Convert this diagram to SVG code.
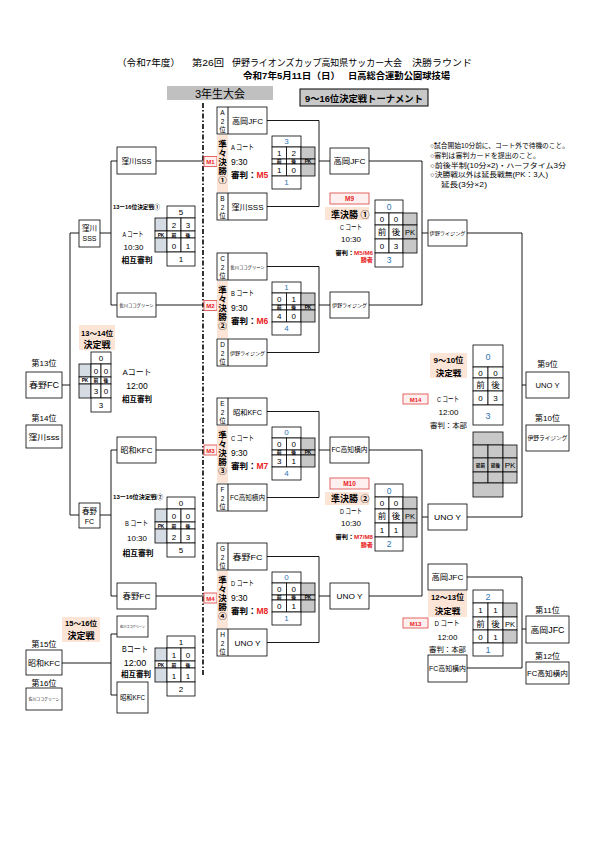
<svg xmlns="http://www.w3.org/2000/svg" width="595" height="841" viewBox="0 0 595 841">
<defs>
<style>
text{font-family:"Liberation Sans","Noto Sans CJK JP",sans-serif;fill:#000}
.b{fill:#fff;stroke:#000;stroke-width:0.8}
.ln{fill:none;stroke:#000;stroke-width:0.9}
.g{fill:#c8c8c8;stroke:#000;stroke-width:0.8}
.gb{fill:#d6dce4;stroke:#000;stroke-width:0.8}
.pe{fill:#fce4d6}
.bl{fill:#2f75b5}
.rd{fill:#e8231e}
.ml{fill:#fff0f0;stroke:#e05555;stroke-width:0.9}
.m{font-weight:bold;fill:#e8231e;text-anchor:middle}
.c{text-anchor:middle}
.bd{font-weight:bold}
</style>
<g id="qt">
<rect class="b" x="0" y="0" width="29" height="11"/>
<rect class="b" x="0" y="11" width="14.5" height="12"/>
<rect class="b" x="14.5" y="11" width="14.5" height="12"/>
<rect class="g" x="29" y="11" width="14" height="12"/>
<rect class="b" x="0" y="23" width="14.5" height="5"/>
<rect class="b" x="14.5" y="23" width="14.5" height="5"/>
<rect class="g" x="29" y="23" width="14" height="5"/>
<rect class="b" x="0" y="28" width="14.5" height="12"/>
<rect class="b" x="14.5" y="28" width="14.5" height="12"/>
<rect class="g" x="29" y="28" width="14" height="12"/>
<rect class="b" x="0" y="40" width="29" height="13"/>
<text class="c bd" x="7.25" y="27.2" font-size="4.8">前</text>
<text class="c bd" x="21.75" y="27.2" font-size="4.8">後</text>
<text class="c bd" x="36" y="27.2" font-size="4.8">PK</text>
</g>
<g id="st">
<rect class="b" x="0" y="0" width="28" height="13"/>
<rect class="b" x="0" y="13" width="14" height="12"/>
<rect class="b" x="14" y="13" width="14" height="12"/>
<rect class="g" x="28" y="13" width="14" height="12"/>
<rect class="b" x="0" y="25" width="14" height="14"/>
<rect class="b" x="14" y="25" width="14" height="14"/>
<rect class="g" x="28" y="25" width="14" height="14"/>
<rect class="b" x="0" y="39" width="14" height="14"/>
<rect class="b" x="14" y="39" width="14" height="14"/>
<rect class="g" x="28" y="39" width="14" height="14"/>
<rect class="b" x="0" y="53" width="28" height="14"/>
<text class="c" x="7" y="35" font-size="8.5">前</text>
<text class="c" x="21" y="35" font-size="8.5">後</text>
<text class="c" x="35" y="35" font-size="7.5">PK</text>
</g>
<g id="lt">
<rect class="b" x="12" y="0" width="28" height="12"/>
<rect class="gb" x="0" y="12" width="12" height="13"/>
<rect class="b" x="12" y="12" width="14" height="13"/>
<rect class="b" x="26" y="12" width="14" height="13"/>
<rect class="b" x="0" y="25" width="12" height="7"/>
<rect class="b" x="12" y="25" width="14" height="7"/>
<rect class="b" x="26" y="25" width="14" height="7"/>
<rect class="gb" x="0" y="32" width="12" height="14"/>
<rect class="b" x="12" y="32" width="14" height="14"/>
<rect class="b" x="26" y="32" width="14" height="14"/>
<rect class="b" x="12" y="46" width="28" height="14"/>
<text class="c bd" x="6" y="30.6" font-size="4.8">PK</text>
<text class="c bd" x="19" y="30.6" font-size="4.8">前</text>
<text class="c bd" x="33" y="30.6" font-size="4.8">後</text>
</g>
</defs>
<rect width="595" height="841" fill="#fff"/>

<g id="header">
<text x="117" y="66" font-size="9.5" textLength="63" lengthAdjust="spacingAndGlyphs">（令和7年度）</text>
<text x="192" y="66" font-size="9.5" textLength="32" lengthAdjust="spacingAndGlyphs">第26回</text>
<text x="232" y="66" font-size="9.5" textLength="170" lengthAdjust="spacingAndGlyphs">伊野ライオンズカップ高知県サッカー大会</text>
<text x="412" y="66" font-size="9.5" textLength="60" lengthAdjust="spacingAndGlyphs">決勝ラウンド</text>
<text x="243" y="79" font-size="9" font-weight="bold" textLength="97" lengthAdjust="spacingAndGlyphs">令和7年5月11日（日）</text>
<text x="348" y="79" font-size="9" font-weight="bold" textLength="102" lengthAdjust="spacingAndGlyphs">日高総合運動公園球技場</text>
<rect x="167" y="86" width="106" height="14" fill="#c0c0c0"/>
<text class="c" x="220" y="97.5" font-size="11">3年生大会</text>
<rect x="300" y="89" width="128" height="17" fill="#c8c8c8" stroke="#000" stroke-width="1"/>
<text class="c bd" x="364" y="101.5" font-size="9.5" textLength="118" lengthAdjust="spacingAndGlyphs">9～16位決定戦トーナメント</text>
</g>

<g id="notes" font-size="6.5">
<text x="430" y="148" textLength="139" lengthAdjust="spacingAndGlyphs">○試合開始10分前に、コート外で待機のこと。</text>
<text x="430" y="158" textLength="110" lengthAdjust="spacingAndGlyphs">○審判は審判カードを提出のこと。</text>
<text x="430" y="167.5" textLength="136" lengthAdjust="spacingAndGlyphs">○前後半制(10分×2)・ハーフタイム3分</text>
<text x="430" y="177" textLength="118" lengthAdjust="spacingAndGlyphs">○決勝戦以外は延長戦無(PK：3人)</text>
<text x="441" y="186.5" textLength="46" lengthAdjust="spacingAndGlyphs">延長(3分×2)</text>
</g>

<line id="divider" x1="203" y1="103" x2="203" y2="676" stroke="#000" stroke-width="1.6" stroke-dasharray="5 2 1.5 2"/>

<g id="connectors" class="ln">
<path d="M156,161 H204"/>
<path d="M156,305 H204"/>
<path d="M156,450 H204"/>
<path d="M156,596 H204"/>
<path d="M117,161 H111 V305 H117"/>
<path d="M100,233 H111"/>
<path d="M117,450 H111 V596 H117"/>
<path d="M100,515 H111"/>
<path d="M79,233 H70 V515 H79"/>
<path d="M62,385 H70"/>
<path d="M117,634 H111 V695 H117"/>
<path d="M62,663 H111"/>
<path d="M267,120.5 H319 V206.5 H267"/>
<path d="M319,161 H330"/>
<path d="M267,266.5 H319 V352.5 H267"/>
<path d="M319,305 H330"/>
<path d="M267,411.5 H319 V497.5 H267"/>
<path d="M319,450 H330"/>
<path d="M267,556.5 H319 V642.5 H267"/>
<path d="M319,596 H330"/>
<path d="M369,161 H422 V305 H369"/>
<path d="M422,233 H428"/>
<path d="M369,450 H422 V596 H369"/>
<path d="M422,517 H428"/>
<path d="M467,233 H522 V517 H467"/>
<path d="M522,385 H526"/>
<path d="M467,577 H522 V668 H467"/>
<path d="M522,629 H526"/>
</g>

<!-- Left first round boxes -->
<g id="l-kubokawa"><rect class="b" x="117" y="147" width="39" height="27"/><text class="c" x="136.5" y="163.5" font-size="7.5" textLength="30" lengthAdjust="spacingAndGlyphs">窪川SSS</text></g>
<g id="l-sakawa"><rect class="b" x="117" y="293" width="39" height="24"/><text class="c" x="136.5" y="306.5" font-size="4.3" textLength="34" lengthAdjust="spacingAndGlyphs">佐川ココグリーン</text></g>
<g id="l-showa"><rect class="b" x="117" y="437" width="39" height="26"/><text class="c" x="136.5" y="453" font-size="8" textLength="32" lengthAdjust="spacingAndGlyphs">昭和KFC</text></g>
<g id="l-haruno"><rect class="b" x="117" y="583" width="39" height="26"/><text class="c" x="136.5" y="599" font-size="8" textLength="28" lengthAdjust="spacingAndGlyphs">春野FC</text></g>
<g id="l-kubokawa2"><rect class="b" x="79" y="220" width="21" height="27"/><text class="c" x="89.5" y="230.5" font-size="7.5">窪川</text><text class="c" x="89.5" y="240.5" font-size="7">SSS</text></g>
<g id="l-haruno2"><rect class="b" x="79" y="503" width="21" height="25"/><text class="c" x="89.5" y="514" font-size="7.5">春野</text><text class="c" x="89.5" y="524" font-size="7">FC</text></g>

<!-- 13-16 deciding match 1 -->
<g id="m1316a">
<text x="113" y="209" font-size="5.6" font-weight="bold" textLength="47" lengthAdjust="spacingAndGlyphs">13ー16位決定戦①</text>
<use href="#lt" x="155" y="206"/>
<text class="c" x="181" y="215" font-size="8">5</text>
<text class="c" x="174" y="227.5" font-size="8">2</text><text class="c" x="188" y="227.5" font-size="8">3</text>
<text class="c" x="174" y="248.5" font-size="8">0</text><text class="c" x="188" y="248.5" font-size="8">1</text>
<text class="c" x="181" y="262" font-size="8">1</text>
<text class="c" x="133" y="237" font-size="7.5" textLength="21" lengthAdjust="spacingAndGlyphs">A コート</text>
<text class="c" x="133.5" y="249.5" font-size="8">10:30</text>
<text class="c bd" x="137" y="262.5" font-size="7.5" textLength="31" lengthAdjust="spacingAndGlyphs">相互審判</text>
</g>

<!-- 13-16 deciding match 2 -->
<g id="m1316b">
<text x="113" y="498.5" font-size="5.6" font-weight="bold" textLength="50" lengthAdjust="spacingAndGlyphs">13ー16位決定戦②</text>
<use href="#lt" x="155" y="497"/>
<text class="c" x="181" y="506" font-size="8">0</text>
<text class="c" x="174" y="518.5" font-size="8">0</text><text class="c" x="188" y="518.5" font-size="8">0</text>
<text class="c" x="174" y="539.5" font-size="8">2</text><text class="c" x="188" y="539.5" font-size="8">3</text>
<text class="c" x="181" y="553" font-size="8">5</text>
<text class="c" x="136.5" y="525.5" font-size="7.5" textLength="23" lengthAdjust="spacingAndGlyphs">B コート</text>
<text class="c" x="137" y="540.5" font-size="8">10:30</text>
<text class="c bd" x="138" y="555.5" font-size="7.5" textLength="31" lengthAdjust="spacingAndGlyphs">相互審判</text>
</g>

<!-- 13-14 -->
<g id="m1314">
<rect class="pe" x="79" y="325" width="36" height="25"/>
<text class="c bd" x="97" y="335.5" font-size="7" textLength="32" lengthAdjust="spacingAndGlyphs">13～14位</text>
<text class="c bd" x="97" y="348" font-size="9">決定戦</text>
<rect class="b" x="91" y="352" width="20" height="12"/>
<rect class="gb" x="79" y="364" width="12" height="13"/>
<rect class="b" x="91" y="364" width="10" height="13"/><rect class="b" x="101" y="364" width="10" height="13"/>
<rect class="b" x="79" y="377" width="12" height="7"/><rect class="b" x="91" y="377" width="10" height="7"/><rect class="b" x="101" y="377" width="10" height="7"/>
<rect class="gb" x="79" y="384" width="12" height="14"/>
<rect class="b" x="91" y="384" width="10" height="14"/><rect class="b" x="101" y="384" width="10" height="14"/>
<rect class="b" x="91" y="398" width="20" height="14"/>
<text class="c bd" x="85" y="382.4" font-size="4.8">PK</text><text class="c bd" x="96" y="382.4" font-size="4.8">前</text><text class="c bd" x="106" y="382.4" font-size="4.8">後</text>
<text class="c" x="101" y="361" font-size="8">0</text>
<text class="c" x="96" y="373.5" font-size="8">0</text><text class="c" x="106" y="373.5" font-size="8">0</text>
<text class="c" x="96" y="394" font-size="8">3</text><text class="c" x="106" y="394" font-size="8">0</text>
<text class="c" x="101" y="408" font-size="8">3</text>
<text class="c" x="137" y="375" font-size="8" textLength="29" lengthAdjust="spacingAndGlyphs">Aコート</text>
<text class="c" x="137" y="389" font-size="8.5">12:00</text>
<text class="c bd" x="137" y="402" font-size="7.5" textLength="30" lengthAdjust="spacingAndGlyphs">相互審判</text>
</g>
<g id="rank13"><text class="c" x="44" y="366" font-size="8">第13位</text><rect class="b" x="26" y="372" width="36" height="26"/><text class="c" x="44" y="388" font-size="8.5" textLength="30" lengthAdjust="spacingAndGlyphs">春野FC</text></g>
<g id="rank14"><text class="c" x="44" y="421" font-size="8">第14位</text><rect class="b" x="26" y="425" width="36" height="23"/><text class="c" x="44" y="439.5" font-size="8" textLength="31" lengthAdjust="spacingAndGlyphs">窪川sss</text></g>

<!-- 15-16 -->
<g id="m1516">
<rect class="pe" x="62" y="617" width="38" height="25"/>
<text class="c bd" x="81" y="626" font-size="7" textLength="32" lengthAdjust="spacingAndGlyphs">15～16位</text>
<text class="c bd" x="81" y="639" font-size="9">決定戦</text>
<rect class="b" x="117" y="616" width="31" height="21"/>
<text class="c" x="132.5" y="628" font-size="3.4" textLength="25" lengthAdjust="spacingAndGlyphs">佐川ココグリーン</text>
<rect class="b" x="117" y="682" width="31" height="31"/>
<text class="c" x="132.5" y="700" font-size="7" textLength="25" lengthAdjust="spacingAndGlyphs">昭和KFC</text>
<use href="#lt" x="155" y="636"/>
<text class="c" x="181" y="645" font-size="8">1</text>
<text class="c" x="174" y="657.5" font-size="8">1</text><text class="c" x="188" y="657.5" font-size="8">0</text>
<text class="c" x="174" y="678.5" font-size="8">1</text><text class="c" x="188" y="678.5" font-size="8">1</text>
<text class="c" x="181" y="692" font-size="8">2</text>
<text class="c" x="135" y="652" font-size="8.5" textLength="26" lengthAdjust="spacingAndGlyphs">Bコート</text>
<text class="c" x="135" y="665.5" font-size="9">12:00</text>
<text class="c bd" x="136" y="677" font-size="7.5" textLength="30" lengthAdjust="spacingAndGlyphs">相互審判</text>
</g>
<g id="rank15"><text class="c" x="44" y="647" font-size="8">第15位</text><rect class="b" x="26" y="650" width="36" height="25"/><text class="c" x="44" y="665.5" font-size="8" textLength="32" lengthAdjust="spacingAndGlyphs">昭和KFC</text></g>
<g id="rank16"><text class="c" x="44" y="685.5" font-size="8">第16位</text><rect class="b" x="26" y="688" width="36" height="22"/><text class="c" x="44" y="700.5" font-size="4" textLength="31" lengthAdjust="spacingAndGlyphs">佐川ココグリーン</text></g>

<!-- M labels -->
<g id="mlabels">
<rect class="ml" x="204" y="156.5" width="13" height="10"/><text class="m" x="210.5" y="164" font-size="6">M1</text>
<rect class="ml" x="204" y="300.5" width="13" height="10"/><text class="m" x="210.5" y="308" font-size="6">M2</text>
<rect class="ml" x="204" y="445" width="13" height="10"/><text class="m" x="210.5" y="452.5" font-size="6">M3</text>
<rect class="ml" x="204" y="593" width="13" height="10"/><text class="m" x="210.5" y="600.5" font-size="6">M4</text>
</g>

<!-- Quarterfinal 1 -->
<g id="qf1" transform="translate(0,107)">
<rect class="b" x="217" y="0" width="50" height="27"/><line class="ln" x1="228" y1="0" x2="228" y2="27"/>
<text class="c" x="222.5" y="8" font-size="6.5">A</text><text class="c" x="222.5" y="16.5" font-size="6.5">2</text><text class="c" x="222.5" y="25" font-size="6.5">位</text>
<text class="c" x="247.5" y="17" font-size="8" textLength="31" lengthAdjust="spacingAndGlyphs">高岡JFC</text>
<rect class="pe" x="217" y="28" width="11" height="57"/>
<text class="c bd" x="222.5" y="39.5" font-size="8.5">準</text><text class="c bd" x="222.5" y="48.5" font-size="8.5">々</text><text class="c bd" x="222.5" y="57.5" font-size="8.5">決</text><text class="c bd" x="222.5" y="66.5" font-size="8.5">勝</text><text class="c bd" x="222.5" y="75.5" font-size="8.5">①</text>
<text x="231" y="43" font-size="7.5" textLength="23" lengthAdjust="spacingAndGlyphs">A コート</text>
<text x="231" y="57.5" font-size="8.5">9:30</text>
<text x="231" y="71" font-size="8.5" font-weight="bold">審判：<tspan class="rd">M5</tspan></text>
<rect class="b" x="217" y="86" width="50" height="27"/><line class="ln" x1="228" y1="86" x2="228" y2="113"/>
<text class="c" x="222.5" y="94" font-size="6.5">B</text><text class="c" x="222.5" y="102.5" font-size="6.5">2</text><text class="c" x="222.5" y="111" font-size="6.5">位</text>
<text class="c" x="247.5" y="103" font-size="8" textLength="32" lengthAdjust="spacingAndGlyphs">窪川SSS</text>
<use href="#qt" x="272" y="29"/>
<text class="c bl" x="286.5" y="37.3" font-size="8">3</text>
<text class="c" x="279.25" y="48.8" font-size="8">1</text><text class="c" x="293.75" y="48.8" font-size="8">2</text>
<text class="c" x="279.25" y="65.8" font-size="8">1</text><text class="c" x="293.75" y="65.8" font-size="8">0</text>
<text class="c bl" x="286.5" y="78.3" font-size="8">1</text>
</g>

<!-- Quarterfinal 2 -->
<g id="qf2" transform="translate(0,253)">
<rect class="b" x="217" y="0" width="50" height="27"/><line class="ln" x1="228" y1="0" x2="228" y2="27"/>
<text class="c" x="222.5" y="8" font-size="6.5">C</text><text class="c" x="222.5" y="16.5" font-size="6.5">2</text><text class="c" x="222.5" y="25" font-size="6.5">位</text>
<text class="c" x="247.5" y="15.5" font-size="4.3" textLength="34" lengthAdjust="spacingAndGlyphs">佐川ココグリーン</text>
<rect class="pe" x="217" y="28" width="11" height="57"/>
<text class="c bd" x="222.5" y="39.5" font-size="8.5">準</text><text class="c bd" x="222.5" y="48.5" font-size="8.5">々</text><text class="c bd" x="222.5" y="57.5" font-size="8.5">決</text><text class="c bd" x="222.5" y="66.5" font-size="8.5">勝</text><text class="c bd" x="222.5" y="75.5" font-size="8.5">②</text>
<text x="231" y="43" font-size="7.5" textLength="23" lengthAdjust="spacingAndGlyphs">B コート</text>
<text x="231" y="57.5" font-size="8.5">9:30</text>
<text x="231" y="71" font-size="8.5" font-weight="bold">審判：<tspan class="rd">M6</tspan></text>
<rect class="b" x="217" y="86" width="50" height="27"/><line class="ln" x1="228" y1="86" x2="228" y2="113"/>
<text class="c" x="222.5" y="94" font-size="6.5">D</text><text class="c" x="222.5" y="102.5" font-size="6.5">2</text><text class="c" x="222.5" y="111" font-size="6.5">位</text>
<text class="c" x="247.5" y="101.5" font-size="5" textLength="35" lengthAdjust="spacingAndGlyphs">伊野ライジング</text>
<use href="#qt" x="272" y="29"/>
<text class="c bl" x="286.5" y="37.3" font-size="8">1</text>
<text class="c" x="279.25" y="48.8" font-size="8">0</text><text class="c" x="293.75" y="48.8" font-size="8">1</text>
<text class="c" x="279.25" y="65.8" font-size="8">4</text><text class="c" x="293.75" y="65.8" font-size="8">0</text>
<text class="c bl" x="286.5" y="78.3" font-size="8">4</text>
</g>

<!-- Quarterfinal 3 -->
<g id="qf3" transform="translate(0,398)">
<rect class="b" x="217" y="0" width="50" height="27"/><line class="ln" x1="228" y1="0" x2="228" y2="27"/>
<text class="c" x="222.5" y="8" font-size="6.5">E</text><text class="c" x="222.5" y="16.5" font-size="6.5">2</text><text class="c" x="222.5" y="25" font-size="6.5">位</text>
<text class="c" x="247.5" y="16.5" font-size="7.3" textLength="29" lengthAdjust="spacingAndGlyphs">昭和KFC</text>
<rect class="pe" x="217" y="28" width="11" height="57"/>
<text class="c bd" x="222.5" y="39.5" font-size="8.5">準</text><text class="c bd" x="222.5" y="48.5" font-size="8.5">々</text><text class="c bd" x="222.5" y="57.5" font-size="8.5">決</text><text class="c bd" x="222.5" y="66.5" font-size="8.5">勝</text><text class="c bd" x="222.5" y="75.5" font-size="8.5">③</text>
<text x="231" y="43" font-size="7.5" textLength="23" lengthAdjust="spacingAndGlyphs">C コート</text>
<text x="231" y="57.5" font-size="8.5">9:30</text>
<text x="231" y="71" font-size="8.5" font-weight="bold">審判：<tspan class="rd">M7</tspan></text>
<rect class="b" x="217" y="86" width="50" height="27"/><line class="ln" x1="228" y1="86" x2="228" y2="113"/>
<text class="c" x="222.5" y="94" font-size="6.5">F</text><text class="c" x="222.5" y="102.5" font-size="6.5">2</text><text class="c" x="222.5" y="111" font-size="6.5">位</text>
<text class="c" x="247.5" y="102" font-size="6.5" textLength="35" lengthAdjust="spacingAndGlyphs">FC高知横内</text>
<use href="#qt" x="272" y="29"/>
<text class="c bl" x="286.5" y="37.3" font-size="8">0</text>
<text class="c" x="279.25" y="48.8" font-size="8">0</text><text class="c" x="293.75" y="48.8" font-size="8">0</text>
<text class="c" x="279.25" y="65.8" font-size="8">3</text><text class="c" x="293.75" y="65.8" font-size="8">1</text>
<text class="c bl" x="286.5" y="78.3" font-size="8">4</text>
</g>

<!-- Quarterfinal 4 -->
<g id="qf4" transform="translate(0,543)">
<rect class="b" x="217" y="0" width="50" height="27"/><line class="ln" x1="228" y1="0" x2="228" y2="27"/>
<text class="c" x="222.5" y="8" font-size="6.5">G</text><text class="c" x="222.5" y="16.5" font-size="6.5">2</text><text class="c" x="222.5" y="25" font-size="6.5">位</text>
<text class="c" x="247.5" y="17" font-size="8" textLength="30" lengthAdjust="spacingAndGlyphs">春野FC</text>
<rect class="pe" x="217" y="28" width="11" height="57"/>
<text class="c bd" x="222.5" y="39.5" font-size="8.5">準</text><text class="c bd" x="222.5" y="48.5" font-size="8.5">々</text><text class="c bd" x="222.5" y="57.5" font-size="8.5">決</text><text class="c bd" x="222.5" y="66.5" font-size="8.5">勝</text><text class="c bd" x="222.5" y="75.5" font-size="8.5">④</text>
<text x="231" y="43" font-size="7.5" textLength="23" lengthAdjust="spacingAndGlyphs">D コート</text>
<text x="231" y="57.5" font-size="8.5">9:30</text>
<text x="231" y="71" font-size="8.5" font-weight="bold">審判：<tspan class="rd">M8</tspan></text>
<rect class="b" x="217" y="86" width="50" height="27"/><line class="ln" x1="228" y1="86" x2="228" y2="113"/>
<text class="c" x="222.5" y="94" font-size="6.5">H</text><text class="c" x="222.5" y="102.5" font-size="6.5">2</text><text class="c" x="222.5" y="111" font-size="6.5">位</text>
<text class="c" x="247.5" y="102.5" font-size="7.5" textLength="26" lengthAdjust="spacingAndGlyphs">UNO Y</text>
<use href="#qt" x="272" y="29"/>
<text class="c bl" x="286.5" y="37.3" font-size="8">0</text>
<text class="c" x="279.25" y="48.8" font-size="8">0</text><text class="c" x="293.75" y="48.8" font-size="8">0</text>
<text class="c" x="279.25" y="65.8" font-size="8">0</text><text class="c" x="293.75" y="65.8" font-size="8">1</text>
<text class="c bl" x="286.5" y="78.3" font-size="8">1</text>
</g>

<!-- Semifinal boxes -->
<g id="sf-takaoka"><rect class="b" x="330" y="148" width="39" height="26"/><text class="c" x="349.5" y="164" font-size="8" textLength="32" lengthAdjust="spacingAndGlyphs">高岡JFC</text></g>
<g id="sf-ino"><rect class="b" x="330" y="292" width="39" height="26"/><text class="c" x="349.5" y="306.5" font-size="5" textLength="35" lengthAdjust="spacingAndGlyphs">伊野ライジング</text></g>
<g id="sf-yokouchi"><rect class="b" x="330" y="437" width="39" height="26"/><text class="c" x="349.5" y="452.3" font-size="6.7" textLength="36" lengthAdjust="spacingAndGlyphs">FC高知横内</text></g>
<g id="sf-uno"><rect class="b" x="330" y="583" width="39" height="26"/><text class="c" x="349.5" y="598.5" font-size="7" textLength="26" lengthAdjust="spacingAndGlyphs">UNO Y</text></g>

<!-- Semifinal 1 -->
<g id="sf1">
<rect class="ml" x="330" y="193" width="39" height="11"/><text class="m" x="349.5" y="201" font-size="6.5">M9</text>
<rect class="pe" x="325" y="207" width="44" height="13"/>
<text x="331" y="217.5" font-size="9" font-weight="bold">準決勝 ①</text>
<text class="c" x="351" y="230" font-size="7.5" textLength="22" lengthAdjust="spacingAndGlyphs">C コート</text>
<text class="c" x="351" y="242" font-size="8">10:30</text>
<text x="373" y="255" font-size="6.2" font-weight="bold" text-anchor="end">審判：<tspan class="rd">M5/M6</tspan></text>
<text class="rd bd" x="373" y="262" font-size="6.2" text-anchor="end">勝者</text>
<use href="#st" x="375" y="200"/>
<text class="c bl" x="389" y="209.5" font-size="8.5">0</text>
<text class="c" x="382" y="222" font-size="8">0</text><text class="c" x="396" y="222" font-size="8">0</text>
<text class="c" x="382" y="249" font-size="8">0</text><text class="c" x="396" y="249" font-size="8">3</text>
<text class="c bl" x="389" y="263" font-size="8.5">3</text>
</g>

<!-- Semifinal 2 -->
<g id="sf2">
<rect class="ml" x="330" y="478" width="39" height="11"/><text class="m" x="349.5" y="486" font-size="6.5">M10</text>
<rect class="pe" x="325" y="492" width="44" height="13"/>
<text x="331" y="502" font-size="9" font-weight="bold">準決勝 ②</text>
<text class="c" x="351" y="514" font-size="7.5" textLength="22" lengthAdjust="spacingAndGlyphs">D コート</text>
<text class="c" x="351" y="526" font-size="8">10:30</text>
<text x="373" y="538.5" font-size="6.2" font-weight="bold" text-anchor="end">審判：<tspan class="rd">M7/M8</tspan></text>
<text class="rd bd" x="373" y="547" font-size="6.2" text-anchor="end">勝者</text>
<use href="#st" x="375" y="484"/>
<text class="c bl" x="389" y="493.5" font-size="8.5">0</text>
<text class="c" x="382" y="506" font-size="8">0</text><text class="c" x="396" y="506" font-size="8">0</text>
<text class="c" x="382" y="533" font-size="8">1</text><text class="c" x="396" y="533" font-size="8">1</text>
<text class="c bl" x="389" y="547" font-size="8.5">2</text>
</g>

<!-- Winners / losers of semis -->
<g id="w-ino"><rect class="b" x="428" y="220" width="39" height="26"/><text class="c" x="447.5" y="234.5" font-size="5" textLength="36" lengthAdjust="spacingAndGlyphs">伊野ライジング</text></g>
<g id="w-uno"><rect class="b" x="428" y="504" width="39" height="26"/><text class="c" x="447.5" y="519.5" font-size="7" textLength="27" lengthAdjust="spacingAndGlyphs">UNO Y</text></g>
<g id="l-takaoka"><rect class="b" x="428" y="564" width="39" height="26"/><text class="c" x="447.5" y="580" font-size="8" textLength="32" lengthAdjust="spacingAndGlyphs">高岡JFC</text></g>
<g id="l-yokouchi"><rect class="b" x="428" y="655" width="39" height="27"/><text class="c" x="447.5" y="670.5" font-size="6.8" textLength="37" lengthAdjust="spacingAndGlyphs">FC高知横内</text></g>

<!-- 9-10 match -->
<g id="m910">
<rect class="pe" x="430" y="353" width="37" height="25"/>
<text class="c bd" x="448.5" y="362.5" font-size="7.5" textLength="30" lengthAdjust="spacingAndGlyphs">9～10位</text>
<text class="c bd" x="448.5" y="375.5" font-size="8.5">決定戦</text>
<rect class="ml" x="403" y="394" width="25" height="10"/><text class="m" x="415.5" y="401.5" font-size="6">M14</text>
<text class="c" x="448" y="401.5" font-size="7.5" textLength="22" lengthAdjust="spacingAndGlyphs">C コート</text>
<text class="c" x="448.5" y="415" font-size="8">12:00</text>
<text class="c" x="448.5" y="428" font-size="7" textLength="37" lengthAdjust="spacingAndGlyphs">審判：本部</text>
<rect class="b" x="473" y="345" width="30" height="22"/>
<rect class="b" x="473" y="367" width="15" height="11"/><rect class="b" x="488" y="367" width="15" height="11"/>
<rect class="b" x="473" y="378" width="15" height="13"/><rect class="b" x="488" y="378" width="15" height="13"/>
<rect class="b" x="473" y="391" width="15" height="14"/><rect class="b" x="488" y="391" width="15" height="14"/>
<rect class="b" x="473" y="405" width="30" height="20"/>
<text class="c bl" x="488" y="359.5" font-size="9">0</text>
<text class="c" x="480.5" y="375.5" font-size="8">0</text><text class="c" x="495.5" y="375.5" font-size="8">0</text>
<text class="c" x="480.5" y="388" font-size="8.5">前</text><text class="c" x="495.5" y="388" font-size="8.5">後</text>
<text class="c" x="480.5" y="401" font-size="8">0</text><text class="c" x="495.5" y="401" font-size="8">3</text>
<text class="c bl" x="488" y="418.5" font-size="9">3</text>
<rect class="g" x="473" y="432" width="30" height="13"/>
<rect class="g" x="473" y="445" width="15" height="13"/><rect class="g" x="488" y="445" width="15" height="13"/><rect class="g" x="503" y="445" width="14" height="13"/>
<rect class="g" x="473" y="458" width="15" height="14"/><rect class="g" x="488" y="458" width="15" height="14"/><rect class="g" x="503" y="458" width="14" height="14"/>
<rect class="g" x="473" y="472" width="15" height="11"/><rect class="g" x="488" y="472" width="15" height="11"/><rect class="g" x="503" y="472" width="14" height="11"/>
<rect class="g" x="473" y="483" width="30" height="14"/>
<text class="c bd" x="480.5" y="466.5" font-size="4.5">延前</text><text class="c bd" x="495.5" y="466.5" font-size="4.5">延後</text><text class="c" x="510" y="468" font-size="8">PK</text>
</g>
<g id="rank9"><text class="c" x="547.5" y="367" font-size="8">第9位</text><rect class="b" x="526" y="372" width="43" height="26"/><text class="c" x="547.5" y="387.5" font-size="7" textLength="24" lengthAdjust="spacingAndGlyphs">UNO Y</text></g>
<g id="rank10"><text class="c" x="547.5" y="421" font-size="8">第10位</text><rect class="b" x="526" y="425" width="43" height="26"/><text class="c" x="547.5" y="440" font-size="5.6" textLength="40" lengthAdjust="spacingAndGlyphs">伊野ライジング</text></g>

<!-- 11-12 match -->
<g id="m1112">
<rect class="pe" x="428" y="591" width="39" height="26"/>
<text class="c bd" x="447.5" y="599.5" font-size="7.5" textLength="33" lengthAdjust="spacingAndGlyphs">12～13位</text>
<text class="c bd" x="447.5" y="613.5" font-size="8.5">決定戦</text>
<rect class="ml" x="403" y="618" width="25" height="10"/><text class="m" x="415.5" y="625.5" font-size="6">M13</text>
<text class="c" x="447" y="626" font-size="7.5" textLength="25" lengthAdjust="spacingAndGlyphs">D コート</text>
<text class="c" x="447.5" y="639.5" font-size="8">12:00</text>
<text class="c" x="447.5" y="652" font-size="7" textLength="37" lengthAdjust="spacingAndGlyphs">審判：本部</text>
<rect class="b" x="473" y="590" width="30" height="13"/>
<rect class="b" x="473" y="603" width="15" height="14"/><rect class="b" x="488" y="603" width="15" height="14"/><rect class="g" x="503" y="603" width="14" height="14"/>
<rect class="b" x="473" y="617" width="15" height="13"/><rect class="b" x="488" y="617" width="15" height="13"/><rect class="b" x="503" y="617" width="14" height="13"/>
<rect class="b" x="473" y="630" width="15" height="13"/><rect class="b" x="488" y="630" width="15" height="13"/><rect class="g" x="503" y="630" width="14" height="13"/>
<rect class="b" x="473" y="643" width="30" height="13"/>
<text class="c bl" x="488" y="599.5" font-size="9">2</text>
<text class="c" x="480.5" y="613" font-size="8">1</text><text class="c" x="495.5" y="613" font-size="8">1</text>
<text class="c" x="480.5" y="626.5" font-size="8.5">前</text><text class="c" x="495.5" y="626.5" font-size="8.5">後</text><text class="c" x="510" y="626.5" font-size="7.5">PK</text>
<text class="c" x="480.5" y="639.5" font-size="8">0</text><text class="c" x="495.5" y="639.5" font-size="8">1</text>
<text class="c bl" x="488" y="652.5" font-size="9">1</text>
</g>
<g id="rank11"><text class="c" x="547.5" y="613" font-size="8">第11位</text><rect class="b" x="526" y="616" width="43" height="27"/><text class="c" x="547.5" y="632.5" font-size="8.5" textLength="34" lengthAdjust="spacingAndGlyphs">高岡JFC</text></g>
<g id="rank12"><text class="c" x="547.5" y="659" font-size="8">第12位</text><rect class="b" x="526" y="662" width="43" height="22"/><text class="c" x="547.5" y="675.5" font-size="7.3" textLength="41" lengthAdjust="spacingAndGlyphs">FC高知横内</text></g>
</svg>
